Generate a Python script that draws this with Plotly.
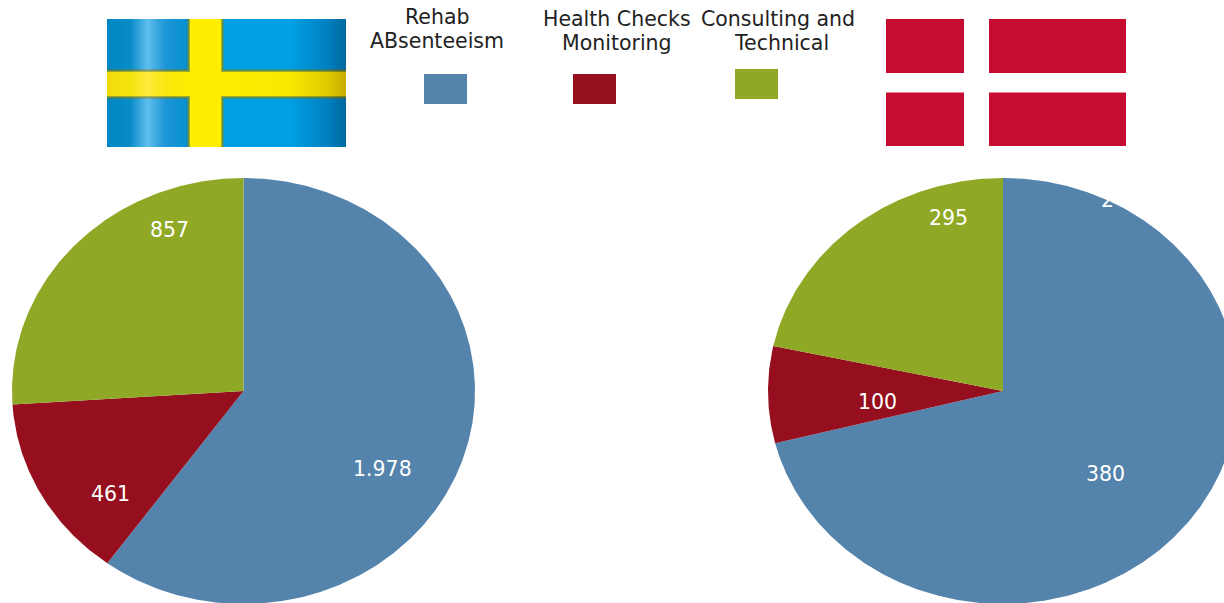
import base64
import struct
import zlib

import numpy as np
import plotly.graph_objects as go

# ---------- data ----------
series_names = [["Rehab", "ABsenteeism"], ["Health Checks", "Monitoring"], ["Consulting and", "Technical"]]
sweden_values = [1978, 461, 857]
# Denmark's blue area holds two slices: 380 and one whose label is cut off ("2...").
denmark_blue_hidden = 590
denmark_hidden_label = "2"
denmark_values = [380, 100, 295]

# ---------- style ----------
COLORS = ["#5483AC", "#950F1E", "#8FA826"]
FONT = "DejaVu Sans"
W, H = 1224, 603


def px(x):
    return x / W


def py(y):
    return 1 - y / H


def wedge(start, end):
    t = np.radians(np.linspace(start, end, max(int(abs(end - start) * 2), 2)))
    return np.r_[0, np.sin(t), 0], np.r_[0, np.cos(t), 0]


def add_pie(fig, values, colors, axis):
    total = sum(values)
    a = 0.0
    for v, c in zip(values, colors):
        b = a + 360 * v / total
        x, y = wedge(a, b)
        fig.add_trace(go.Scatter(x=x, y=y, mode="lines", fill="toself", fillcolor=c,
                                 line=dict(width=0, color=c), hoverinfo="skip",
                                 showlegend=False, xaxis=f"x{axis}", yaxis=f"y{axis}"))
        a = b


def sweden_flag_uri(w=239, h=128):
    xs = np.arange(w) + 107.0
    ys = np.arange(h) + 19.0
    px_stops = [107, 130, 147, 165, 188, 222, 290, 325, 346]
    blue = np.c_[
        np.interp(xs, px_stops, [0, 10, 95, 30, 5, 0, 0, 0, 0]),
        np.interp(xs, px_stops, [135, 140, 190, 150, 145, 160, 160, 130, 105]),
        np.interp(xs, px_stops, [195, 200, 238, 215, 210, 228, 228, 195, 160]),
    ]
    yellow = np.c_[
        np.interp(xs, px_stops, [240, 245, 255, 250, 255, 255, 250, 225, 200]),
        np.interp(xs, px_stops, [220, 228, 235, 230, 238, 238, 232, 205, 170]),
        np.interp(xs, px_stops, [10, 15, 60, 15, 0, 0, 0, 0, 0]),
    ]

    def soft(v, lo, hi, k=2.0):
        return np.clip((v - lo) / (2 * k) + .5, 0, 1) * np.clip((hi - v) / (2 * k) + .5, 0, 1)

    mv = soft(xs, 188, 222)[None, :]
    mh = soft(ys, 70, 97)[:, None]
    m = np.maximum(mv, mh)[..., None]
    img = blue[None, :, :] * (1 - m) + yellow[None, :, :] * m
    img = img * (1 - 1.0 * m * (1 - m))
    img = np.clip(img, 0, 255).astype(np.uint8)

    raw = b"".join(b"\x00" + row.tobytes() for row in img)

    def chunk(tag, data):
        body = tag + data
        return struct.pack(">I", len(data)) + body + struct.pack(">I", zlib.crc32(body))

    png = (b"\x89PNG\r\n\x1a\n" + chunk(b"IHDR", struct.pack(">IIBBBBB", w, h, 8, 2, 0, 0, 0))
           + chunk(b"IDAT", zlib.compress(raw)) + chunk(b"IEND", b""))
    return "data:image/png;base64," + base64.b64encode(png).decode()


fig = go.Figure()
add_pie(fig, sweden_values, COLORS, "")
# the two blue Danish slices are drawn as one area, as no seam shows between them
add_pie(fig, [denmark_blue_hidden + denmark_values[0]] + denmark_values[1:], COLORS, "2")

# ---------- shapes: swatches and Danish flag ----------
shapes = []


def rect(x0, y0, x1, y1, color):
    shapes.append(dict(type="rect", xref="paper", yref="paper", x0=px(x0), x1=px(x1),
                       y0=py(y1), y1=py(y0), fillcolor=color, line=dict(width=0), layer="above"))


rect(424, 74, 467, 104, COLORS[0])
rect(573, 74, 616, 104, COLORS[1])
rect(735, 69, 778, 99, COLORS[2])
rect(886, 19, 1126, 146, "#C60C30")
rect(964, 19, 989, 146, "#FFFFFF")
rect(886, 73, 1126, 92.5, "#FFFFFF")


# ---------- text ----------
def note(text, x, y, color, size=20.5):
    return dict(text=text, x=px(x), y=py(y), xref="paper", yref="paper", showarrow=False,
                xanchor="center", yanchor="middle", align="center",
                font=dict(family=FONT, size=size, color=color))


def fmt(v):
    return f"{v:,}".replace(",", ".")


annotations = [
    note(series_names[0][0], 437, 17, "#222222"),
    note(series_names[0][1], 437, 41, "#222222"),
    note(series_names[1][0], 617, 19, "#222222"),
    note(series_names[1][1], 617, 43, "#222222"),
    note(series_names[2][0], 778, 19, "#222222"),
    note(series_names[2][1], 781, 43, "#222222"),
    note(fmt(sweden_values[0]), 382, 469, "#FFFFFF"),
    note(fmt(sweden_values[1]), 110, 494, "#FFFFFF"),
    note(fmt(sweden_values[2]), 169, 230, "#FFFFFF"),
    note(fmt(denmark_values[0]), 1105, 474, "#FFFFFF"),
    note(fmt(denmark_values[1]), 877, 402, "#FFFFFF"),
    note(fmt(denmark_values[2]), 948, 218, "#FFFFFF"),
    note(denmark_hidden_label, 1107, 200, "#FFFFFF"),
]

axis_off = dict(visible=False, fixedrange=True)
fig.update_layout(
    width=W, height=H, margin=dict(l=0, r=0, t=0, b=0),
    paper_bgcolor="white", plot_bgcolor="rgba(0,0,0,0)", showlegend=False,
    # each pie is a unit circle stretched by its axis domain into the ellipse of the reference
    xaxis=dict(domain=[px(12), px(475)], range=[-1, 1], **axis_off),
    yaxis=dict(domain=[0, py(178)], range=[(391 - 603) / 213, 1], **axis_off),
    xaxis2=dict(domain=[px(768), 1], range=[-1, (1224 - 1003) / 235], **axis_off),
    yaxis2=dict(domain=[0, py(178)], range=[(391 - 603) / 213, 1], **axis_off),
    shapes=shapes, annotations=annotations,
    images=[dict(source=sweden_flag_uri(), xref="paper", yref="paper", x=px(107), y=py(19),
                 sizex=px(239), sizey=128 / H, xanchor="left", yanchor="top",
                 sizing="stretch", layer="above")],
)

fig.write_html("out.html", config=dict(displayModeBar=False),
               post_script="document.documentElement.style.margin='0';document.body.style.margin='0';document.body.style.overflow='hidden';")
